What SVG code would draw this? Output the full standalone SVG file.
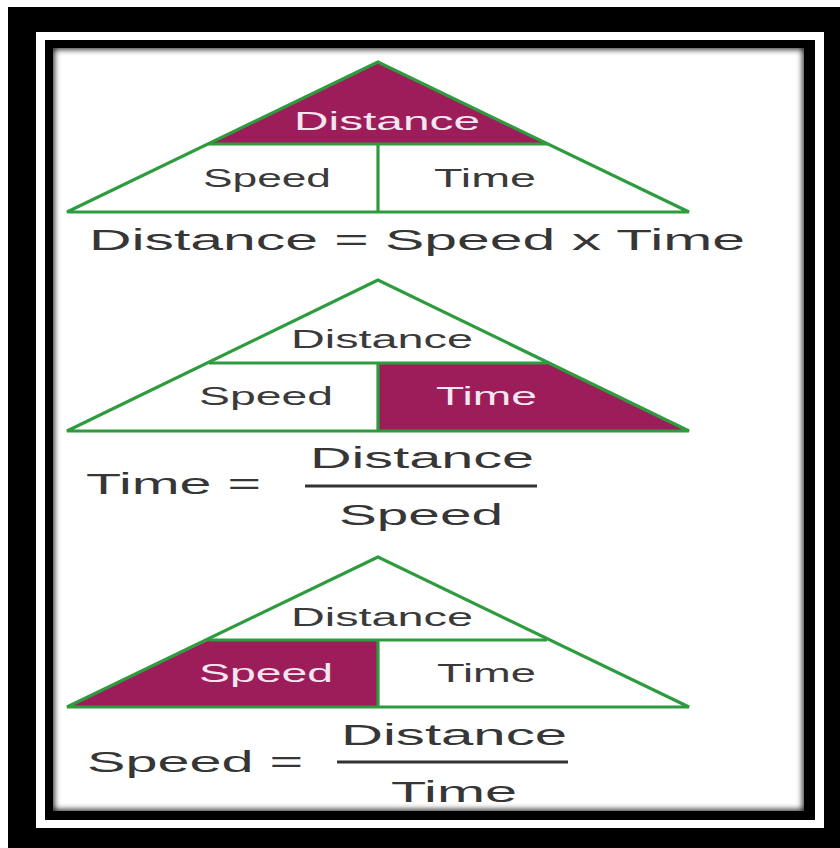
<svg xmlns="http://www.w3.org/2000/svg" width="840" height="848" viewBox="0 0 840 848">
<defs>
<style>
.tri{fill:none;stroke:#2e9c3e;stroke-width:3.2;stroke-linejoin:miter}
.ln{stroke:#2e9c3e;stroke-width:3.2}
.hi{fill:#9d1d5b}
.lb{font-family:"Liberation Sans",Arial,sans-serif;font-size:25px;fill:#3a3a3a}
.lbw{font-family:"Liberation Sans",Arial,sans-serif;font-size:25px;fill:#f3e6ee}
.fm{font-family:"Liberation Sans",Arial,sans-serif;font-size:30px;fill:#363636}
.bar{stroke:#333;stroke-width:3}
</style>
<clipPath id="inner"><rect x="53" y="48" width="751" height="763"/></clipPath>
<filter id="sh" x="-5%" y="-5%" width="110%" height="110%"><feGaussianBlur stdDeviation="3"/></filter>
</defs>
<g id="frame">
<rect x="8" y="7" width="832" height="841" fill="#000"/>
<rect x="36" y="32" width="788" height="796" fill="#fff"/>
<rect x="45" y="40" width="770" height="780" fill="#000"/>
<rect x="53" y="48" width="751" height="763" fill="#fff"/>
<g clip-path="url(#inner)"><rect x="51" y="46" width="755" height="767" fill="none" stroke="#000" stroke-width="6" filter="url(#sh)"/></g>
</g>
<g id="connectors"/>
<g id="triangle1">
<polygon class="hi" points="378,62 208,144 548,144"/>
<polygon class="tri" points="378,62 67,212 689,212"/>
<line class="ln" x1="208" y1="144" x2="548" y2="144"/>
<line class="ln" x1="378" y1="144" x2="378" y2="212"/>
<text class="lbw" x="294" y="130" textLength="186" lengthAdjust="spacingAndGlyphs">Distance</text>
<text class="lb" x="203" y="187" textLength="128" lengthAdjust="spacingAndGlyphs">Speed</text>
<text class="lb" x="434" y="187" textLength="102" lengthAdjust="spacingAndGlyphs">Time</text>
</g>
<g id="formula1">
<text class="fm" x="89" y="250" textLength="656" lengthAdjust="spacingAndGlyphs">Distance = Speed x Time</text>
</g>
<g id="triangle2">
<polygon class="hi" points="378,363 547,363 689,431 378,431"/>
<polygon class="tri" points="378,280 67,431 689,431"/>
<line class="ln" x1="209" y1="363" x2="547" y2="363"/>
<line class="ln" x1="378" y1="363" x2="378" y2="431"/>
<text class="lb" x="291" y="348" textLength="182" lengthAdjust="spacingAndGlyphs">Distance</text>
<text class="lb" x="199" y="405" textLength="134" lengthAdjust="spacingAndGlyphs">Speed</text>
<text class="lbw" x="436" y="405" textLength="101" lengthAdjust="spacingAndGlyphs">Time</text>
</g>
<g id="formula2">
<text class="fm" x="86" y="494" textLength="175" lengthAdjust="spacingAndGlyphs">Time =</text>
<text class="fm" x="310" y="468" textLength="224" lengthAdjust="spacingAndGlyphs">Distance</text>
<line class="bar" x1="305" y1="486" x2="537" y2="486"/>
<text class="fm" x="339" y="525" textLength="164" lengthAdjust="spacingAndGlyphs">Speed</text>
</g>
<g id="triangle3">
<polygon class="hi" points="209,640 378,640 378,707 67,707"/>
<polygon class="tri" points="378,557 67,707 689,707"/>
<line class="ln" x1="209" y1="640" x2="547" y2="640"/>
<line class="ln" x1="378" y1="640" x2="378" y2="707"/>
<text class="lb" x="291" y="626" textLength="182" lengthAdjust="spacingAndGlyphs">Distance</text>
<text class="lbw" x="199" y="682" textLength="134" lengthAdjust="spacingAndGlyphs">Speed</text>
<text class="lb" x="437" y="682" textLength="99" lengthAdjust="spacingAndGlyphs">Time</text>
</g>
<g id="formula3">
<text class="fm" x="87" y="772" textLength="216" lengthAdjust="spacingAndGlyphs">Speed =</text>
<text class="fm" x="341" y="745" textLength="226" lengthAdjust="spacingAndGlyphs">Distance</text>
<line class="bar" x1="337" y1="762" x2="568" y2="762"/>
<text class="fm" x="391" y="802" textLength="126" lengthAdjust="spacingAndGlyphs">Time</text>
</g>
</svg>
